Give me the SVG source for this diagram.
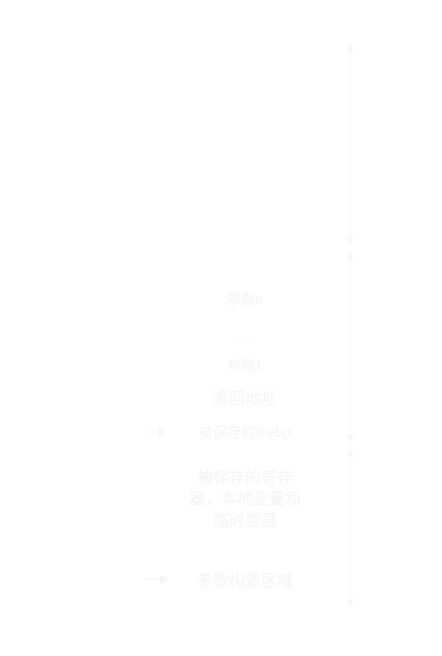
<svg xmlns="http://www.w3.org/2000/svg" width="442" height="656" viewBox="0 0 442 656">
<style>
text{font-family:"Liberation Sans","Noto Sans CJK SC",sans-serif;fill:#f3f3f3;text-anchor:middle;dominant-baseline:central}
.s14{font-size:14px}
.s16{font-size:16px}
.ln{stroke:#f5f5f5;stroke-width:1.2;fill:none}
</style>
<defs>
<marker id="ah" viewBox="0 0 10 10" refX="9" refY="5" markerWidth="8" markerHeight="8" orient="auto-start-reverse" markerUnits="userSpaceOnUse">
<path d="M0,0 L10,5 L0,10 z" fill="#f5f5f5"/>
</marker>
</defs>
<rect width="442" height="656" fill="#ffffff"/>
<g id="connectors">
<line class="ln" x1="350" y1="45" x2="350" y2="245" marker-start="url(#ah)" marker-end="url(#ah)"/>
<line class="ln" x1="350" y1="253" x2="350" y2="442" marker-start="url(#ah)" marker-end="url(#ah)"/>
<line class="ln" x1="350" y1="450" x2="350" y2="606" marker-start="url(#ah)" marker-end="url(#ah)"/>
<line class="ln" x1="143" y1="432" x2="165" y2="432" marker-end="url(#ah)"/>
<line class="ln" x1="143" y1="579" x2="167" y2="579" marker-end="url(#ah)"/>
</g>
<g id="arg-n"><text class="s14" x="245" y="299">参数n</text></g>
<g id="ellipsis"><text class="s14" x="245" y="337">· · ·</text></g>
<g id="arg-1"><text class="s14" x="245" y="365">参数1</text></g>
<g id="return-address"><text class="s16" x="245" y="398">返回地址</text></g>
<g id="saved-ebp"><text class="s14" x="245" y="432">被保存的%ebp</text></g>
<g id="saved-regs">
<text class="s16" x="245" y="477">被保存的寄存</text>
<text class="s16" x="245" y="498">器，本地变量和</text>
<text class="s16" x="245" y="520">临时变量</text>
</g>
<g id="arg-build"><text class="s16" x="245" y="580">参数构造区域</text></g>
</svg>
